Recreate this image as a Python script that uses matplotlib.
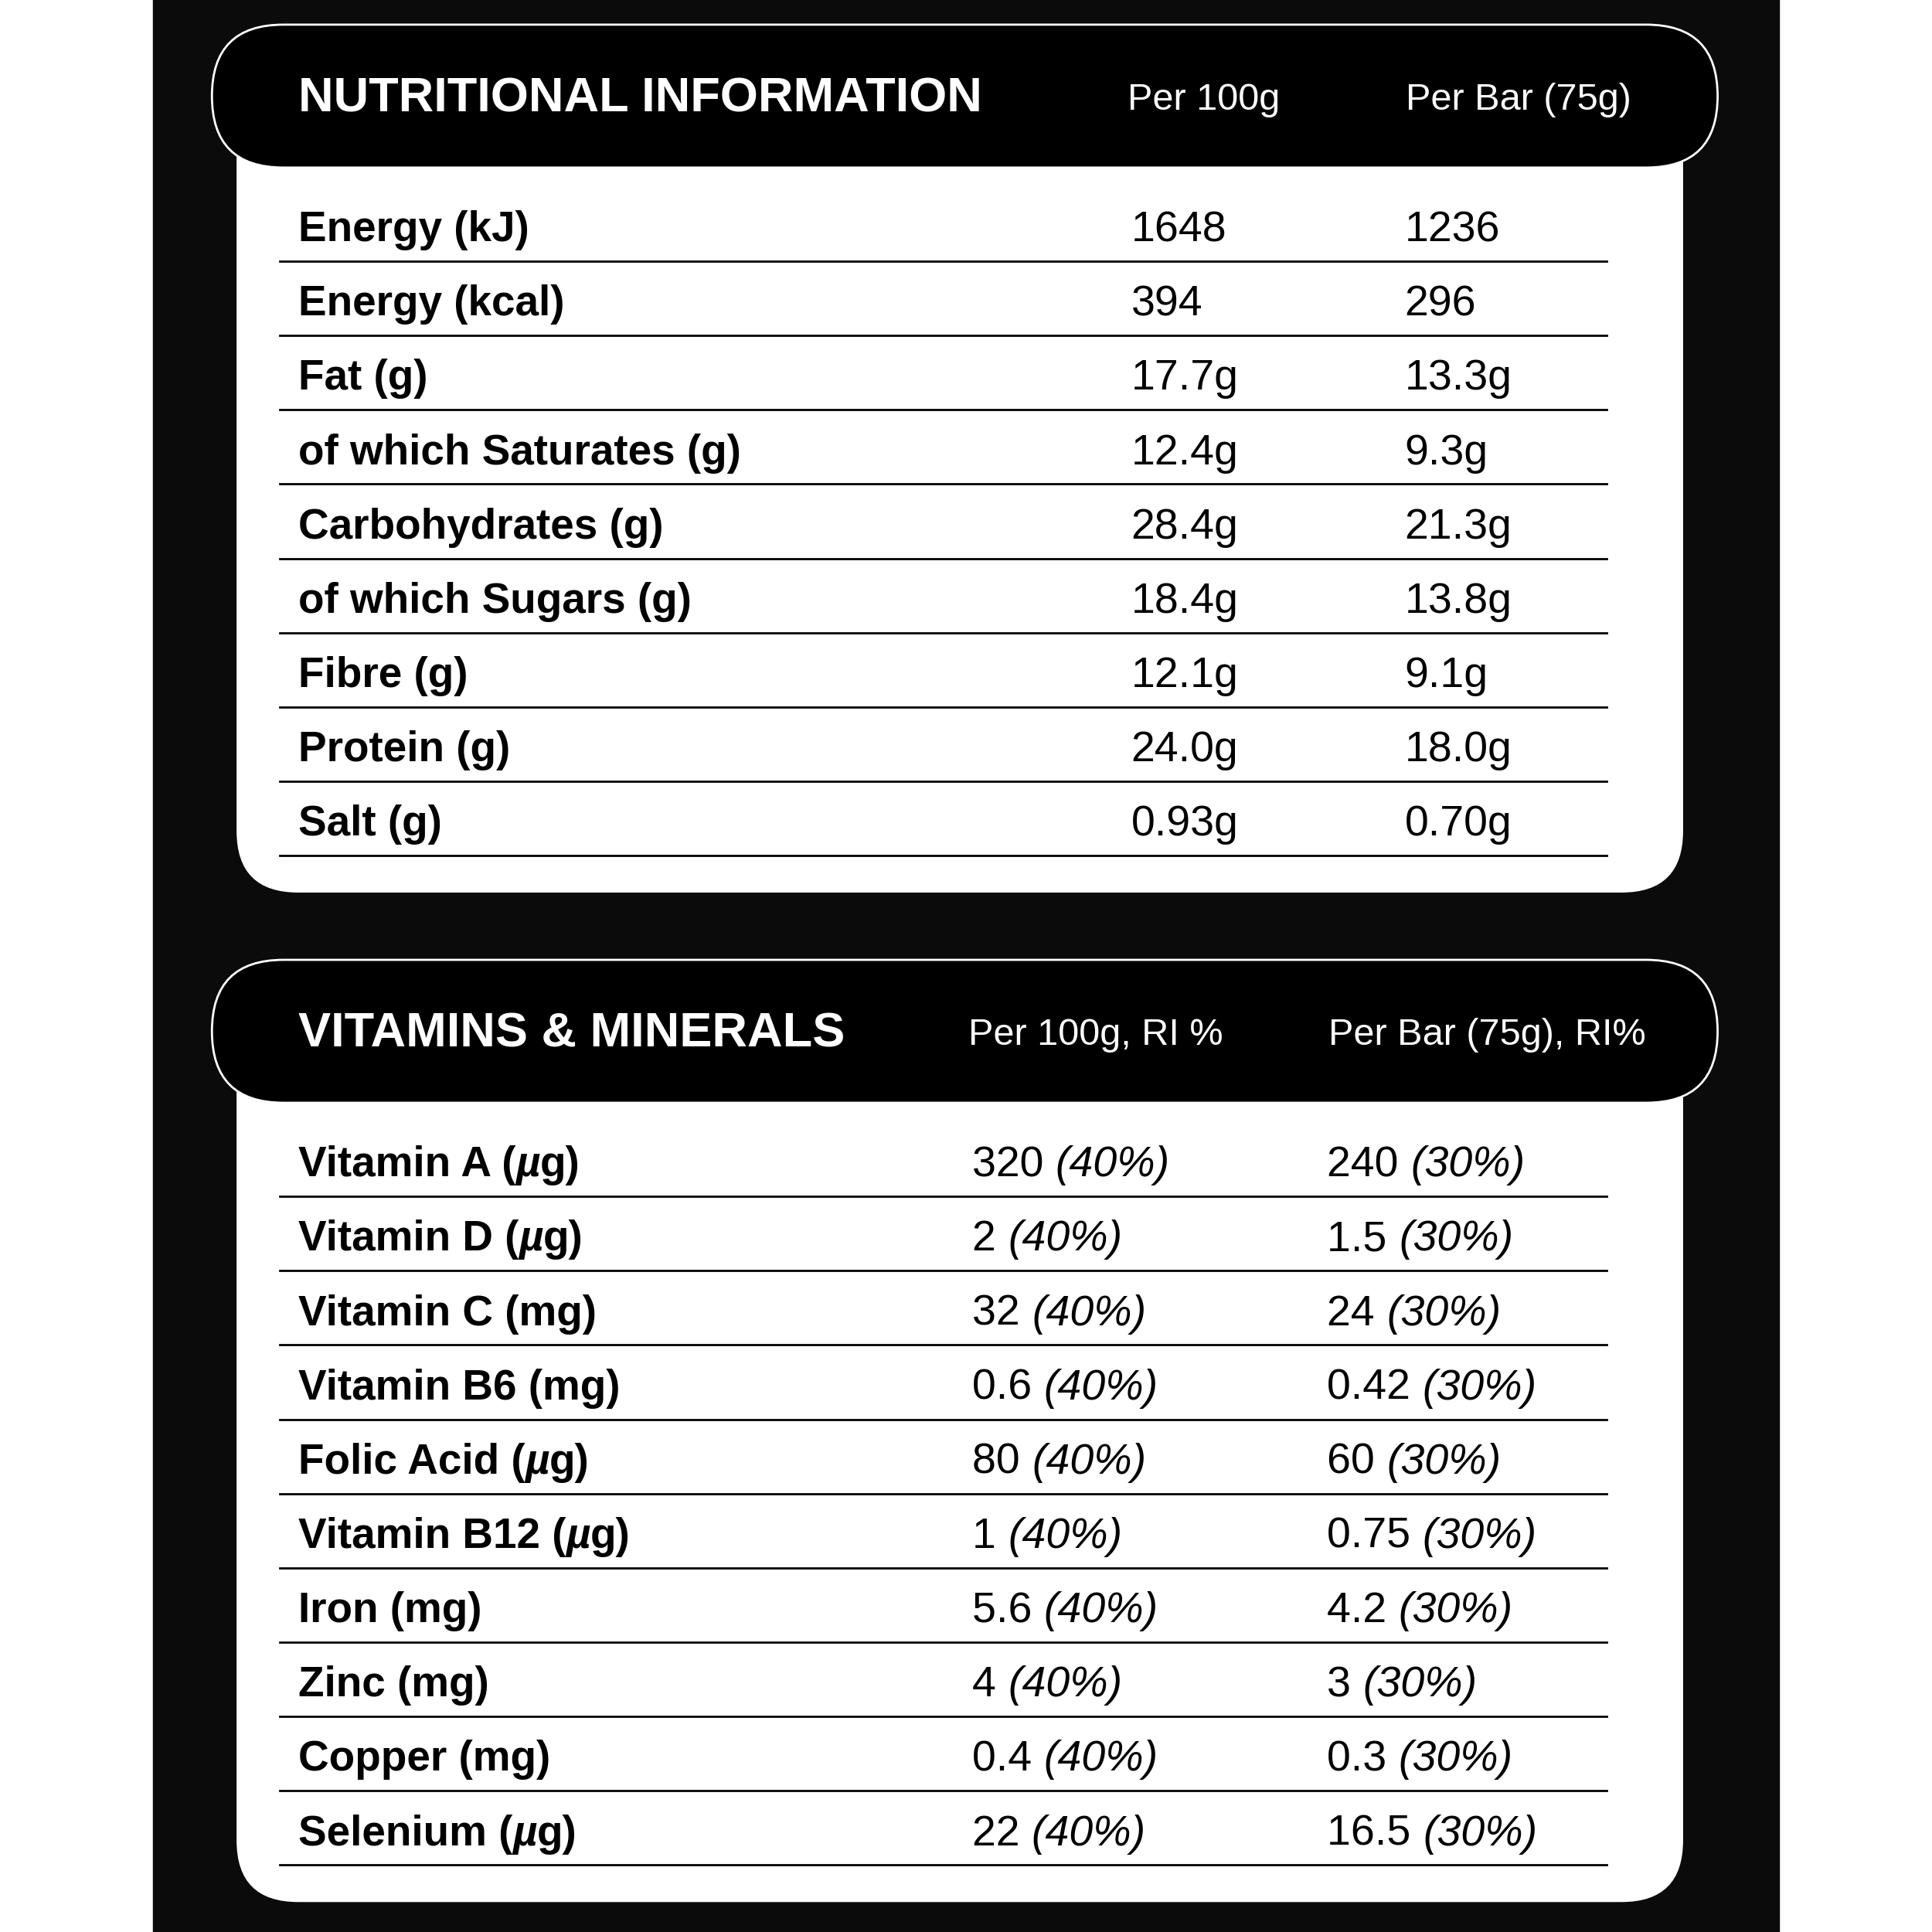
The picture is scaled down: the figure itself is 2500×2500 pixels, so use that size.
import matplotlib
matplotlib.use("Agg")
import matplotlib.pyplot as plt
from matplotlib.patches import FancyBboxPatch, Rectangle

nut_title = "NUTRITIONAL INFORMATION"
nut_cols = ["Per 100g", "Per Bar (75g)"]
nut_labels = ["Energy (kJ)", "Energy (kcal)", "Fat (g)", "of which Saturates (g)", "Carbohydrates (g)",
              "of which Sugars (g)", "Fibre (g)", "Protein (g)", "Salt (g)"]
nut_100 = ["1648", "394", "17.7g", "12.4g", "28.4g", "18.4g", "12.1g", "24.0g", "0.93g"]
nut_bar = ["1236", "296", "13.3g", "9.3g", "21.3g", "13.8g", "9.1g", "18.0g", "0.70g"]

vit_title = "VITAMINS & MINERALS"
vit_cols = ["Per 100g, RI %", "Per Bar (75g), RI%"]
vit_labels = ["Vitamin A (µg)", "Vitamin D (µg)", "Vitamin C (mg)", "Vitamin B6 (mg)", "Folic Acid (µg)",
              "Vitamin B12 (µg)", "Iron (mg)", "Zinc (mg)", "Copper (mg)", "Selenium (µg)"]
vit_100 = ["320", "2", "32", "0.6", "80", "1", "5.6", "4", "0.4", "22"]
vit_100_ri = ["(40%)"] * 10
vit_bar = ["240", "1.5", "24", "0.42", "60", "0.75", "4.2", "3", "0.3", "16.5"]
vit_bar_ri = ["(30%)"] * 10

FONT = "Liberation Sans"
fig = plt.figure(figsize=(10, 10), dpi=250)
ax = fig.add_axes([0, 0, 1, 1])
ax.set_xlim(0, 1568); ax.set_ylim(1568, 0); ax.axis("off")
ax.add_patch(Rectangle((125, 0), 1318, 1568, color="#0b0b0c", zorder=0))
r = fig.canvas.get_renderer()

def chain(x, y, pieces, size, weight="normal"):
    for s, style in pieces:
        t = ax.text(x, y, s, fontsize=size, fontweight=weight, family=FONT, style=style,
                    va="center", zorder=3)
        bb = t.get_window_extent(r).transformed(ax.transData.inverted())
        x = bb.x1

def label_pieces(lab):
    if "µ" in lab:
        a, b = lab.split("µ")
        return [(a, "normal"), ("µ", "italic"), (b, "normal")]
    return [(lab, "normal")]

def section(top, title, cols, colx, labels, v1, v2, ri1=None, ri2=None):
    n = len(labels)
    bottom = top + 167 + 60.3 * (n - 1) + 55
    ax.add_patch(FancyBboxPatch((192, top + 40), 1174, bottom - top - 40,
                                boxstyle="round,pad=0,rounding_size=50", fc="white", ec="none", zorder=1))
    ax.add_patch(FancyBboxPatch((172, top), 1222, 116, boxstyle="round,pad=0,rounding_size=58",
                                fc="black", ec="white", lw=0.8, zorder=2))
    ax.text(242, top + 60, title, color="white", fontsize=18.2, fontweight="bold", family=FONT,
            va="center", zorder=3)
    for x, c in zip(colx, cols):
        ax.text(x, top + 61, c, color="white", fontsize=14, family=FONT, va="center", zorder=3)
    for i, lab in enumerate(labels):
        y = top + 167 + 60.3 * i
        chain(242, y, label_pieces(lab), 15.8, "bold")
        for x, v, ri in ((colx[0] + 3, v1[i], ri1[i] if ri1 else None),
                         (colx[1] - 1, v2[i], ri2[i] if ri2 else None)):
            pieces = [(v + (" " if ri else ""), "normal")]
            if ri:
                pieces.append((ri, "italic"))
            chain(x, y, pieces, 16)
        ax.plot([227, 1304], [y + 25, y + 25], color="black", lw=0.8, zorder=3)

section(20, nut_title, nut_cols, [915, 1141], nut_labels, nut_100, nut_bar)
section(779, vit_title, vit_cols, [786, 1078], vit_labels, vit_100, vit_bar, vit_100_ri, vit_bar_ri)
fig.savefig("out.png", dpi=250, facecolor="white")
